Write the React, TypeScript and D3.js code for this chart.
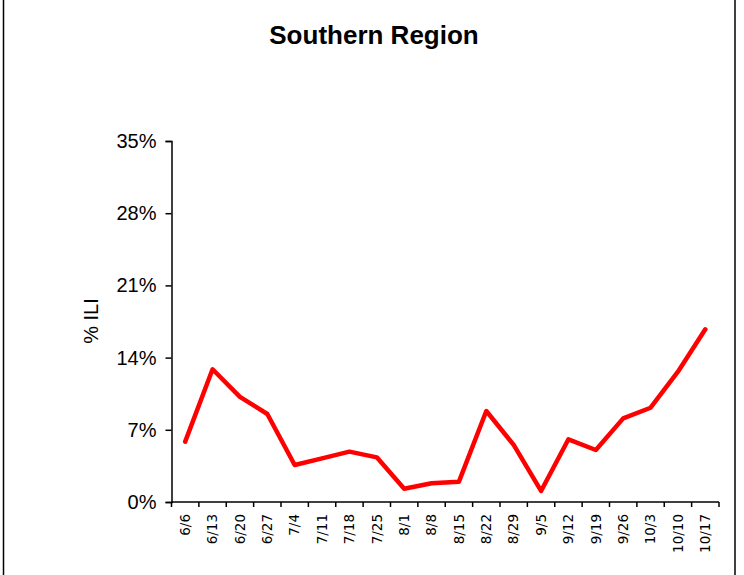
import React, { useEffect, useRef } from "react";
import * as d3 from "d3";

const categories = ["6/6","6/13","6/20","6/27","7/4","7/11","7/18","7/25","8/1","8/8","8/15","8/22","8/29","9/5","9/12","9/19","9/26","10/3","10/10","10/17"];
const iliValues = [5.85,12.87,10.2,8.53,3.59,4.23,4.88,4.33,1.29,1.81,1.97,8.82,5.53,1.07,6.08,5.04,8.11,9.14,12.63,16.74];
const yTickValues = [0, 7, 14, 21, 28, 35];
const title = "Southern Region";
const yAxisTitle = "% ILI";

const W = 744, H = 575;
const plot = { left: 171.5, right: 719, top: 141, bottom: 502 };

export default function App() {
  const ref = useRef<SVGSVGElement>(null);
  useEffect(() => {
    const svg = d3.select(ref.current);
    svg.selectAll("*").remove();
    const x = d3.scaleBand<string>().domain(categories).range([plot.left, plot.right]);
    const y = d3.scaleLinear().domain([0, 35]).range([plot.bottom, plot.top]);
    const cx = (c: string) => (x(c) as number) + x.bandwidth() / 2;

    svg.append("rect").attr("width", W).attr("height", H).attr("fill", "#fff");
    // frame
    svg.append("line").attr("x1", 3.5).attr("x2", 3.5).attr("y1", 0).attr("y2", H).attr("stroke", "#000").attr("stroke-width", 1.5);
    svg.append("line").attr("x1", 735).attr("x2", 735).attr("y1", 0).attr("y2", H).attr("stroke", "#000").attr("stroke-width", 1.5);

    svg.append("text").attr("x", 374).attr("y", 44).attr("text-anchor", "middle")
      .attr("font-family", "'Liberation Sans', Arial, sans-serif").attr("font-weight", "bold").attr("font-size", 26)
      .text(title);

    // y axis
    const yAxis = d3.axisLeft(y).tickValues(yTickValues).tickSize(6).tickPadding(9).tickFormat((d) => `${d}%`);
    const gy = svg.append("g").attr("transform", `translate(${plot.left},0)`).call(yAxis);
    gy.select(".domain").attr("stroke", "#000").attr("stroke-width", 1.5);
    gy.selectAll(".tick line").attr("stroke", "#000").attr("stroke-width", 1.5);
    gy.selectAll(".tick text").attr("font-family", "'Liberation Sans', Arial, sans-serif").attr("font-size", 20).attr("fill", "#000");

    svg.append("text").attr("transform", `translate(98,321) rotate(-90)`).attr("text-anchor", "middle")
      .attr("font-family", "'Liberation Sans', Arial, sans-serif").attr("font-size", 20).text(yAxisTitle);

    // x axis
    const gx = svg.append("g").attr("transform", `translate(0,${plot.bottom})`);
    gx.append("line").attr("x1", plot.left).attr("x2", plot.right).attr("y1", 0).attr("y2", 0).attr("stroke", "#000").attr("stroke-width", 1.5);
    const edges = categories.map((c) => x(c) as number).concat([plot.right]);
    gx.selectAll("line.tk").data(edges).enter().append("line").attr("class", "tk")
      .attr("x1", (d) => d).attr("x2", (d) => d).attr("y1", 0).attr("y2", 5).attr("stroke", "#000").attr("stroke-width", 1.5);
    gx.selectAll("text.lbl").data(categories).enter().append("text").attr("class", "lbl")
      .attr("transform", (c) => `translate(${cx(c)},12) rotate(-90)`)
      .attr("text-anchor", "end").attr("dy", "0.35em")
      .attr("font-family", "'DejaVu Sans', sans-serif").attr("font-size", 13.5).attr("fill", "#000")
      .text((c) => c);

    // line
    const line = d3.line<number>().x((_, i) => cx(categories[i])).y((v) => y(v));
    svg.append("path").datum(iliValues).attr("d", line).attr("fill", "none").attr("stroke", "#ff0000")
      .attr("stroke-width", 4.5).attr("stroke-linejoin", "round").attr("stroke-linecap", "round");
  }, []);
  return <svg ref={ref} width={W} height={H} style={{ position: "absolute", left: 0, top: 0 }} />;
}
